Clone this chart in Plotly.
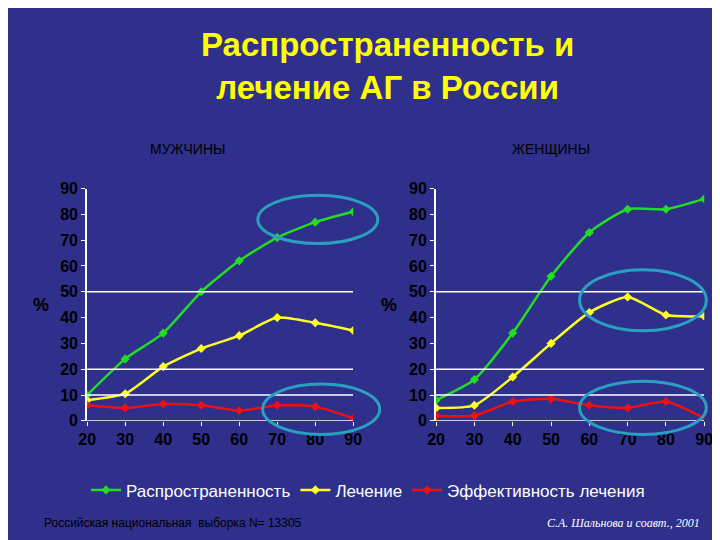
import plotly.graph_objects as go

ages = [20, 30, 40, 50, 60, 70, 80, 90]
men_prev = [10, 24, 34, 50, 62, 71, 77, 81]
men_treat = [8, 10.5, 21, 28, 33, 40, 38, 35]
men_eff = [6, 5, 6.5, 6, 4, 6, 5.5, 1]
women_prev = [8, 16, 34, 56, 73, 82, 82, 86]
women_treat = [5, 6, 17, 30, 42, 48, 41, 40.5]
women_eff = [2, 2, 7.5, 8.5, 6, 5, 7.5, 1]
y_ticks = [0, 10, 20, 30, 40, 50, 60, 70, 80, 90]

names = ["Распространенность", "Лечение", "Эффективность лечения"]
colors = ["#22dd22", "#ffff22", "#ee1111"]

fig = go.Figure()
for ax, series, show in [("", [men_prev, men_treat, men_eff], True),
                         ("2", [women_prev, women_treat, women_eff], False)]:
    for name, col, vals in zip(names, colors, series):
        fig.add_trace(go.Scatter(
            x=ages, y=vals, name=name, mode="lines+markers",
            line=dict(color=col, width=2.5, shape="spline", smoothing=0.6),
            marker=dict(color=col, size=7, symbol="diamond"),
            xaxis="x" + ax, yaxis="y" + ax, showlegend=show))

tickfont = dict(family="Liberation Sans", size=16, color="black", weight="bold")
axis_x = dict(range=[20, 90], tickvals=ages, showgrid=False, zeroline=False,
              showline=False, tickfont=tickfont, ticks="outside", ticklen=4,
              tickcolor="white")
axis_y = dict(range=[0, 90], tickvals=y_ticks, showgrid=False, zeroline=False,
              showline=True, linecolor="white", linewidth=2, tickfont=tickfont,
              ticks="outside", ticklen=4, tickcolor="white")

fig.update_layout(
    width=720, height=540,
    paper_bgcolor="#2f2f8c", plot_bgcolor="#2f2f8c",
    margin=dict(l=0, r=0, t=0, b=0),
    xaxis=dict(axis_x, domain=[0.1, 0.479], anchor="y"),
    yaxis=dict(axis_y, domain=[0.226, 0.670], anchor="x"),
    xaxis2=dict(axis_x, domain=[0.597, 0.979], anchor="y2"),
    yaxis2=dict(axis_y, domain=[0.226, 0.670], anchor="x2"),
    legend=dict(orientation="h", x=0.5, xanchor="center", y=0.093, yanchor="middle",
                font=dict(family="Liberation Sans", size=17, color="white"),
                bgcolor="rgba(0,0,0,0)"),
)

shapes = []
for xr, yr in [("x", "y"), ("x2", "y2")]:
    for v in [0, 10, 20, 50]:
        shapes.append(dict(type="line", xref=xr, yref=yr, x0=19, x1=90, y0=v, y1=v,
                           line=dict(color="white", width=1.5)))
for px0, py0, px1, py1 in [(247, 185, 370, 235), (252, 380, 372, 432),
                           (577, 262, 707, 325), (577, 377, 707, 432)]:
    shapes.append(dict(type="circle", xref="paper", yref="paper",
                       x0=px0 / 720, x1=px1 / 720, y0=1 - py1 / 540, y1=1 - py0 / 540,
                       line=dict(color="#2a9fc0", width=3)))
fig.update_layout(shapes=shapes)

ann = [
    dict(text="<b>Распространенность и<br>лечение АГ в России</b>", x=380 / 720, y=1 - 52 / 540,
         font=dict(size=33, color="#ffff00", family="Liberation Sans")),
    dict(text="МУЖЧИНЫ", x=175 / 720, y=1 - 137 / 540, font=dict(size=14, color="black")),
    dict(text="ЖЕНЩИНЫ", x=548 / 720, y=1 - 137 / 540, font=dict(size=14, color="black")),
    dict(text="<b>%</b>", x=25 / 720, y=1 - 298 / 540, font=dict(size=18, color="black")),
    dict(text="<b>%</b>", x=382 / 720, y=1 - 298 / 540, font=dict(size=18, color="black")),
    dict(text="Российская национальная  выборка N= 13305", x=160 / 720, y=1 - 523 / 540,
         font=dict(size=12, color="black")),
    dict(text="<i>С.А. Шальнова и соавт., 2001</i>", x=622 / 720, y=1 - 523 / 540,
         font=dict(size=12, color="white", family="Liberation Serif")),
]
for a in ann:
    a["font"].setdefault("family", "Liberation Sans")
    fig.add_annotation(xref="paper", yref="paper", showarrow=False,
                       xanchor="center", yanchor="middle", **a)

fig.write_html("out.html")
